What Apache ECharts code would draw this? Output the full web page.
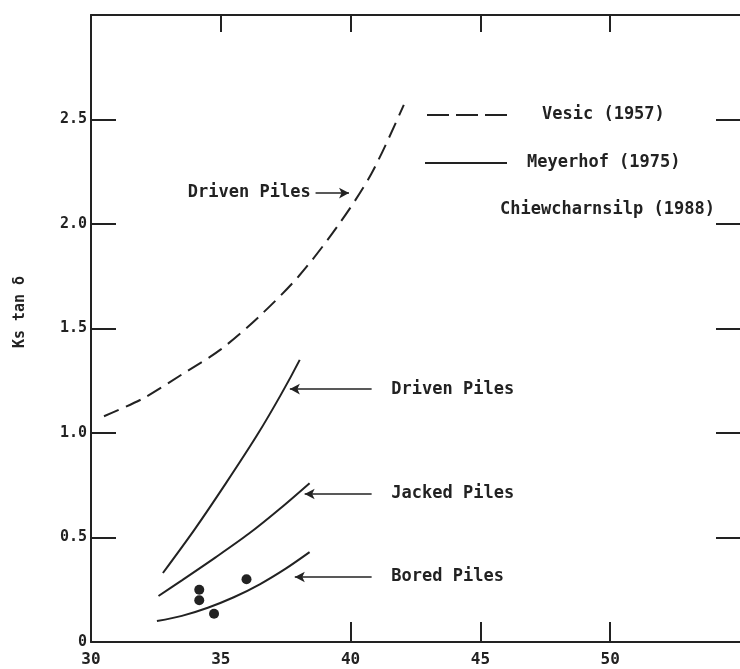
<!DOCTYPE html>
<html>
<head>
<meta charset="utf-8">
<script src="https://cdn.jsdelivr.net/npm/echarts@6/dist/echarts.min.js"></script>
<style>
html, body { margin: 0; background: #fff; }
#chart { width: 740px; height: 669px; }
</style>
</head>
<body>
<div id="chart"></div>
<script>
// Ks tan δ - φ (scanned figure)
const xLabelValues = [30, 35, 40, 45, 50]
const yLabelValues = [0, 0.5, 1.0, 1.5, 2.0, 2.5]

// Vesic (1957) driven piles - dashed
const vesicDriven = [[30.5, 1.08], [32, 1.165], [33.5, 1.28], [35, 1.40], [36.5, 1.56], [38, 1.75], [39.5, 1.99], [40.8, 2.24], [42.05, 2.57]]
// Meyerhof (1975)
const meyerDriven = [[32.77, 0.33], [34, 0.54], [35.2, 0.76], [36.4, 0.99], [37.3, 1.18], [38.04, 1.35]]
const meyerJacked = [[32.6, 0.22], [33.5, 0.295], [34.8, 0.405], [36.1, 0.52], [37.3, 0.64], [38.42, 0.76]]
const meyerBored = [[32.54, 0.10], [33.5, 0.125], [34.5, 0.164], [35.5, 0.214], [36.5, 0.276], [37.5, 0.351], [38.42, 0.43]]
// Chiewcharnsilp - test points
const chiewPoints = [[34.17, 0.25], [34.17, 0.20], [34.74, 0.135], [35.99, 0.30]]

const INK = '#222'
const FONT = '"DejaVu Sans Mono", monospace'

const chart = echarts.init(document.getElementById('chart'))

function arrow (from, to) { // 注释箭头
    return [{ coord: from, symbol: 'none' }, { coord: to, symbol: 'arrow' }]
}

const arrowLine = {
    silent: true,
    symbolSize: [8, 10],
    label: { show: false },
    lineStyle: { color: INK, width: 1.6, type: 'solid' }
}

const option = {
    animation: false,
    backgroundColor: '#fff',
    grid: { left: 91, right: -9, top: 15, bottom: 27 },
    xAxis: [{
        type: 'value', min: 30, max: 55, interval: 5, position: 'bottom',
        splitLine: { show: false },
        axisLine: { lineStyle: { color: INK, width: 2 } },
        axisTick: { inside: true, length: 20, customValues: [40, 45, 50], lineStyle: { color: INK, width: 2 } },
        axisLabel: { customValues: xLabelValues, color: INK, fontFamily: FONT, fontSize: 16, fontWeight: 'bold', margin: 10 }
    }, {
        type: 'value', min: 30, max: 55, interval: 5, position: 'top',
        splitLine: { show: false },
        axisLine: { onZero: false, lineStyle: { color: INK, width: 2 } },
        axisTick: { inside: true, length: 17, customValues: [35, 40, 45, 50], lineStyle: { color: INK, width: 2 } },
        axisLabel: { show: false }
    }],
    yAxis: [{
        type: 'value', min: 0, max: 3, interval: 0.5, position: 'left',
        splitLine: { show: false },
        axisLine: { lineStyle: { color: INK, width: 2 } },
        axisTick: { inside: true, length: 25, customValues: [0.5, 1, 1.5, 2, 2.5], lineStyle: { color: INK, width: 2 } },
        axisLabel: {
            customValues: yLabelValues, color: INK, fontFamily: FONT, fontSize: 15, fontWeight: 'bold', margin: 4,
            formatter: v => v === 0 ? '0' : v.toFixed(1)
        }
    }, {
        type: 'value', min: 0, max: 3, interval: 0.5, position: 'right',
        splitLine: { show: false },
        axisLine: { show: false },
        axisTick: { inside: true, length: 24, customValues: [0.5, 1, 1.5, 2, 2.5], lineStyle: { color: INK, width: 2 } },
        axisLabel: { show: false }
    }],
    series: [{
        name: 'Vesic (1957)', type: 'line', data: vesicDriven, smooth: 0.3, showSymbol: false,
        lineStyle: { color: INK, width: 2, type: [16, 8] },
        markLine: Object.assign({ data: [arrow([38.65, 2.148], [39.94, 2.148])] }, arrowLine)
    }, {
        name: 'Meyerhof Driven', type: 'line', data: meyerDriven, smooth: 0.3, showSymbol: false,
        lineStyle: { color: INK, width: 2 },
        markLine: Object.assign({ data: [arrow([40.81, 1.21], [37.66, 1.21])] }, arrowLine)
    }, {
        name: 'Meyerhof Jacked', type: 'line', data: meyerJacked, smooth: 0.3, showSymbol: false,
        lineStyle: { color: INK, width: 2 },
        markLine: Object.assign({ data: [arrow([40.81, 0.708], [38.23, 0.708])] }, arrowLine)
    }, {
        name: 'Meyerhof Bored', type: 'line', data: meyerBored, smooth: 0.3, showSymbol: false,
        lineStyle: { color: INK, width: 2 },
        markLine: Object.assign({ data: [arrow([40.81, 0.311], [37.85, 0.311])] }, arrowLine)
    }, {
        name: 'Chiewcharnsilp (1988)', type: 'scatter', data: chiewPoints,
        symbol: 'circle', symbolSize: 10, itemStyle: { color: INK, opacity: 1 }
    }]
}
chart.setOption(option)

// 文字注释 (data coords -> pixel)
const notes = [
    { text: 'Driven Piles', at: [38.46, 2.148], align: 'right' },
    { text: 'Driven Piles', at: [41.57, 1.21], align: 'left' },
    { text: 'Jacked Piles', at: [41.57, 0.708], align: 'left' },
    { text: 'Bored Piles', at: [41.57, 0.311], align: 'left' }
]
const txtStyle = { fill: INK, font: 'bold 17px ' + FONT, verticalAlign: 'middle' }
const graphics = notes.map(n => {
    const p = chart.convertToPixel({ gridIndex: 0 }, n.at)
    return { type: 'text', x: p[0], y: p[1], style: Object.assign({ text: n.text, align: n.align }, txtStyle) }
})
// legend
graphics.push(
    { type: 'line', shape: { x1: 427, y1: 115, x2: 507, y2: 115 }, style: { stroke: INK, lineWidth: 2, lineDash: [22, 7] } },
    { type: 'text', x: 542, y: 115, style: Object.assign({ text: 'Vesic (1957)', align: 'left' }, txtStyle) },
    { type: 'line', shape: { x1: 425, y1: 163, x2: 507, y2: 163 }, style: { stroke: INK, lineWidth: 2 } },
    { type: 'text', x: 527, y: 163, style: Object.assign({ text: 'Meyerhof (1975)', align: 'left' }, txtStyle) },
    { type: 'text', x: 500, y: 210, style: Object.assign({ text: 'Chiewcharnsilp (1988)', align: 'left' }, txtStyle) },
    { type: 'text', x: 20, y: 312, rotation: Math.PI / 2, style: { text: 'Ks tan δ', fill: INK, font: 'bold 15px ' + FONT, align: 'center', verticalAlign: 'middle' } }
)
chart.setOption({ graphic: graphics })
</script>
</body>
</html>
